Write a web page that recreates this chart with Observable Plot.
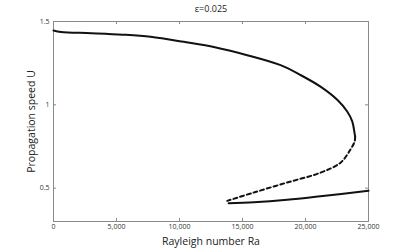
<!DOCTYPE html>
<html>
<head>
<meta charset="utf-8">
<script src="https://cdn.jsdelivr.net/npm/d3@7"></script>
<script src="https://cdn.jsdelivr.net/npm/@observablehq/plot@0.6"></script>
<style>
  html, body { margin: 0; padding: 0; background: #fff; }
  #chart { width: 407px; height: 249px; }
</style>
</head>
<body>
<div id="chart"></div>
<script>
// Stable upper branch
const upperRa = [0, 600, 3000, 5500, 7700, 10340, 12720, 15370, 18020, 19600, 21190, 22520, 23310, 23710, 23890, 23940];
const upperU  = [1.446, 1.437, 1.430, 1.421, 1.408, 1.378, 1.347, 1.298, 1.238, 1.179, 1.109, 1.030, 0.960, 0.901, 0.832, 0.810];
// Unstable middle branch (dashed)
const midRa = [23940, 23900, 23570, 22780, 21190, 18550, 15900, 13790];
const midU  = [0.810, 0.780, 0.732, 0.653, 0.593, 0.534, 0.474, 0.424];
// Stable lower branch
const lowerRa = [13900, 15900, 18550, 21190, 25000];
const lowerU  = [0.409, 0.415, 0.430, 0.451, 0.484];

const xTicks = [0, 5000, 10000, 15000, 20000, 25000];
const yTicks = [0.5, 1, 1.5];
const title = "ε=0.025";
const xLabel = "Rayleigh number Ra";
const yLabel = "Propagation speed U";

const toRows = (xs, ys) => xs.map((x, i) => ({x, y: ys[i]}));
const upper = toRows(upperRa, upperU);
const mid = toRows(midRa, midU);
const lower = toRows(lowerRa, lowerU);

const W = 407, H = 249, mL = 53, mR = 39, mT = 21, mB = 28;
const fw = W - mL - mR, fh = H - mT - mB;
const tick = 3;
const gray = "#8a8a8a";

const chart = Plot.plot({
  width: W,
  height: H,
  marginLeft: mL,
  marginRight: mR,
  marginTop: mT,
  marginBottom: mB,
  style: {fontFamily: "'Open Sans', 'Liberation Sans', sans-serif", fontSize: "7px", color: "#333", background: "#fff"},
  x: {domain: [0, 25000]},
  y: {domain: [0.3, 1.5]},
  marks: [
    Plot.frame({stroke: gray, strokeWidth: 1}),
    Plot.tickX(xTicks, {x: d => d, insetTop: fh - tick, stroke: gray}),
    Plot.tickX(xTicks, {x: d => d, insetBottom: fh - tick, stroke: gray}),
    Plot.tickY(yTicks, {y: d => d, insetRight: fw - tick, stroke: gray}),
    Plot.tickY(yTicks, {y: d => d, insetLeft: fw - tick, stroke: gray}),
    Plot.axisX(xTicks, {tickSize: 0, tickPadding: 3, tickFormat: d3.format(","), fontSize: 7, label: null}),
    Plot.axisY(yTicks, {tickSize: 0, tickPadding: 4, tickFormat: d => String(d), fontSize: 7, label: null}),
    Plot.line(upper, {x: "x", y: "y", stroke: "#111", strokeWidth: 2, curve: "catmull-rom"}),
    Plot.line(mid, {x: "x", y: "y", stroke: "#111", strokeWidth: 2, strokeDasharray: "4,3", curve: "catmull-rom"}),
    Plot.line(lower, {x: "x", y: "y", stroke: "#111", strokeWidth: 2, curve: "catmull-rom"}),
    Plot.text([xLabel], {frameAnchor: "bottom", dy: 20, lineAnchor: "middle", textAnchor: "middle", text: d => d, fontSize: 10.5, fill: "#222"}),
    Plot.text([yLabel], {frameAnchor: "left", dx: -22, rotate: -90, lineAnchor: "middle", textAnchor: "middle", text: d => d, fontSize: 10.5, fill: "#222"}),
    Plot.text([title], {frameAnchor: "top", dy: -12, lineAnchor: "middle", textAnchor: "middle", text: d => d, fontSize: 9, fill: "#222"})
  ]
});
document.getElementById("chart").appendChild(chart);
</script>
</body>
</html>
